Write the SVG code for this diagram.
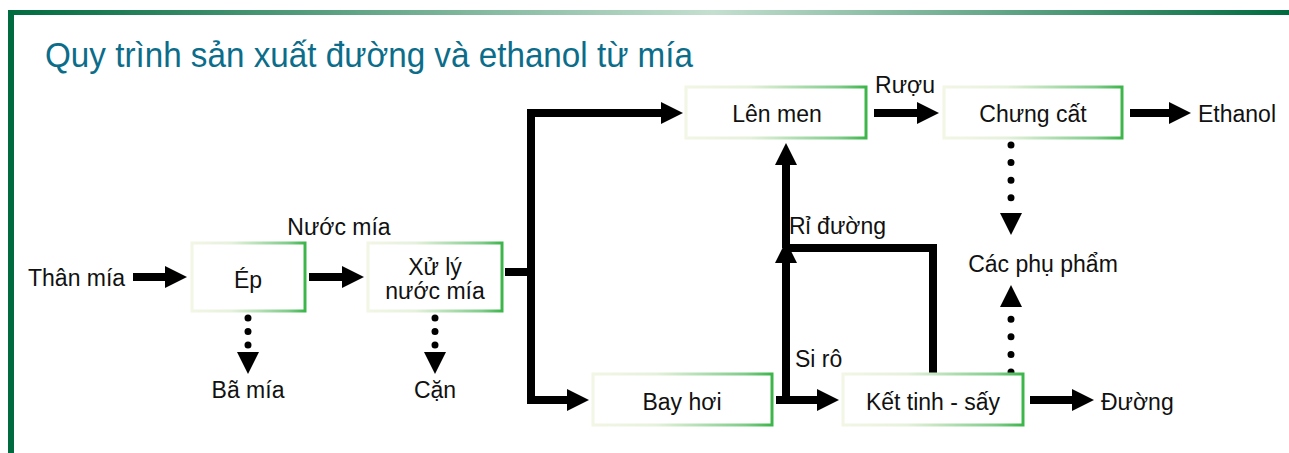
<svg xmlns="http://www.w3.org/2000/svg" width="1289" height="453" viewBox="0 0 1289 453">
<defs>
<linearGradient id="topbar" x1="0" y1="0" x2="1" y2="0">
<stop offset="0" stop-color="#006b3f"/>
<stop offset="0.55" stop-color="#c4dfcf"/>
<stop offset="1" stop-color="#006b3f"/>
</linearGradient>
<linearGradient id="boxg" x1="0" y1="0" x2="1" y2="0">
<stop offset="0" stop-color="#f2f6e4"/>
<stop offset="0.35" stop-color="#e6f1dc"/>
<stop offset="0.85" stop-color="#7fcc8a"/>
<stop offset="1" stop-color="#3cb54a"/>
</linearGradient>
<marker id="ah" markerUnits="userSpaceOnUse" viewBox="0 0 22 22" markerWidth="22" markerHeight="22" refX="1" refY="11" orient="auto">
<path d="M0,0 L22,11 L0,22 Z" fill="#000"/>
</marker>
</defs>
<style>
.box{fill:#fff;stroke:url(#boxg);stroke-width:3}
.t{font-family:"Liberation Sans",Arial,sans-serif;font-size:23px;fill:#111}
.m{text-anchor:middle}
.c{fill:none;stroke:#000;stroke-width:8;stroke-linejoin:miter;marker-end:url(#ah)}
.p{fill:none;stroke:#000;stroke-width:8;stroke-linejoin:miter}
.d{fill:none;stroke:#000;stroke-width:7;stroke-linecap:round;marker-end:url(#ah)}
</style>
<rect x="0" y="0" width="1289" height="453" fill="#fff"/>
<rect x="8" y="10" width="1281" height="5" fill="url(#topbar)"/>
<rect x="8" y="10" width="6" height="443" fill="#006b3f"/>
<text x="45" y="67" font-family="Liberation Sans, Arial, sans-serif" font-size="35" fill="#0b6d8a" textLength="648" lengthAdjust="spacingAndGlyphs">Quy trình sản xuất đường và ethanol từ mía</text>

<g id="connectors">
<path class="c" d="M133,277 H166"/>
<path class="c" d="M309,277 H343"/>
<path class="p" d="M505,272 H531"/>
<path class="c" d="M531,400 V113 H662"/>
<path class="c" d="M527,400 H568"/>
<path class="c" d="M874,113 H918"/>
<path class="c" d="M1130,113 H1170"/>
<path class="c" d="M776,400 H818"/>
<path class="c" d="M786,404 V262"/>
<path class="c" d="M786,248 V164"/>
<path class="p" d="M933,374 V248 H786"/>
<path class="c" d="M1030,400 H1073"/>
<path class="d" stroke-dasharray="0 13.5" d="M248,318 V353"/>
<path class="d" stroke-dasharray="0 13.5" d="M435,318 V353"/>
<path class="d" stroke-dasharray="0 17.6" d="M1011,145 V214"/>
<path class="d" stroke-dasharray="0 17.6" d="M1011,372 V306"/>
</g>

<g id="n-thanmia"><text class="t" x="28" y="286">Thân mía</text></g>
<g id="n-ep"><rect class="box" x="192" y="243" width="113" height="68"/><text class="t m" x="248" y="288">Ép</text></g>
<g id="n-xuly"><rect class="box" x="368" y="243" width="134" height="68"/><text class="t m" x="435" y="275">Xử lý</text><text class="t m" x="435" y="299">nước mía</text></g>
<g id="n-nuocmia"><text class="t m" x="339" y="235">Nước mía</text></g>
<g id="n-bamia"><text class="t m" x="248" y="398">Bã mía</text></g>
<g id="n-can"><text class="t m" x="435" y="398">Cặn</text></g>
<g id="n-lenmen"><rect class="box" x="686" y="87" width="180" height="51"/><text class="t m" x="777" y="122">Lên men</text></g>
<g id="n-ruou"><text class="t m" x="905" y="93">Rượu</text></g>
<g id="n-chungcat"><rect class="box" x="944" y="87" width="178" height="51"/><text class="t m" x="1033" y="122">Chưng cất</text></g>
<g id="n-ethanol"><text class="t" x="1198" y="122">Ethanol</text></g>
<g id="n-riduong"><text class="t" x="789" y="234">Rỉ đường</text></g>
<g id="n-phupham"><text class="t m" x="1043" y="272">Các phụ phẩm</text></g>
<g id="n-siro"><text class="t" x="795" y="367">Si rô</text></g>
<g id="n-bayhoi"><rect class="box" x="593" y="374" width="179" height="51"/><text class="t m" x="682" y="410">Bay hơi</text></g>
<g id="n-kettinh"><rect class="box" x="843" y="374" width="180" height="51"/><text class="t m" x="933" y="410">Kết tinh - sấy</text></g>
<g id="n-duong"><text class="t" x="1101" y="410">Đường</text></g>
</svg>
